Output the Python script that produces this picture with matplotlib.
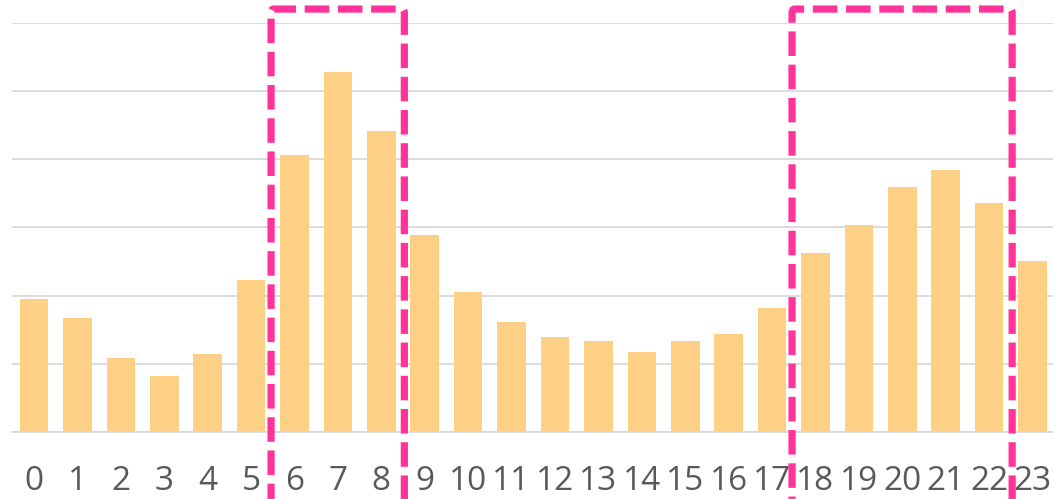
import matplotlib.pyplot as plt
from matplotlib.patches import FancyBboxPatch

hours = list(range(24))
values = [1.95, 1.67, 1.08, 0.82, 1.14, 2.23, 4.06, 5.28, 4.41, 2.89,
          2.05, 1.61, 1.39, 1.34, 1.17, 1.34, 1.44, 1.82, 2.62, 3.03,
          3.59, 3.84, 3.36, 2.51]
highlights = [(6, 8), (18, 22)]

fig = plt.figure(figsize=(10.53, 4.99), dpi=100)
ax = fig.add_axes([0.0117, 0.1343, 0.9895, 0.8202])

ax.bar(hours, values, width=0.66, color="#FED086", zorder=2)

ax.set_xlim(-0.5, 23.5)
ax.set_ylim(0, 6)
ax.set_yticks(range(7))
ax.yaxis.grid(True, color="#d9d9d9", linewidth=1.3, zorder=0)
ax.tick_params(axis="y", left=False, labelleft=False)
ax.tick_params(axis="x", bottom=False, pad=20, labelsize=24, labelcolor="#595959")
ax.set_xticks(hours)
ax.set_xticklabels([str(h) for h in hours], fontfamily="Open Sans")
for s in ["top", "right", "left"]:
    ax.spines[s].set_visible(False)
ax.spines["bottom"].set_color("#d9d9d9")
ax.spines["bottom"].set_linewidth(1.3)

# dashed boxes around the peak hours
for a, b in highlights:
    left = a - 0.54
    right = b + 0.53
    box = FancyBboxPatch((left, -1.5), right - left, 6.2 + 1.5,
                         boxstyle="round,pad=0,rounding_size=0.06",
                         fill=False, edgecolor="#FF3399", linewidth=5.2,
                         linestyle=(0, (3.4, 1.2)), clip_on=False, zorder=3)
    ax.add_patch(box)

fig.savefig("out.png", dpi=100)
